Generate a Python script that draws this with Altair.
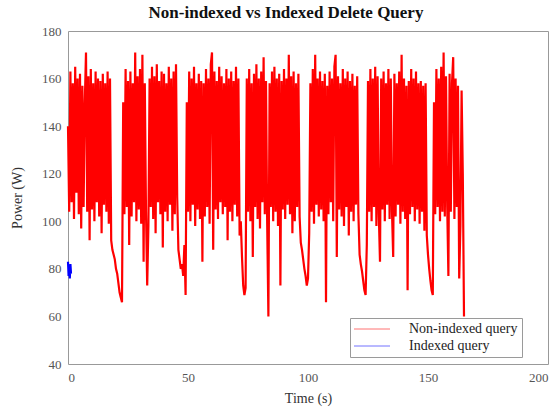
import altair as alt
import pandas as pd

# Sampling interval of the power meter (s)
STEP = 0.5

# Non-indexed delete query: power draw (W), one reading every STEP seconds
power_0_40 = [
    140, 104, 163, 108, 158, 101, 165, 112, 160, 103, 162, 97, 157, 106, 150, 171,
    104, 161, 92, 164, 105, 158, 100, 163, 108, 160, 102, 159, 95, 162, 107, 158,
    104, 163, 99, 160,
    92, 88, 86, 84, 80, 78, 74, 70, 68, 66,
    150, 103, 164, 106, 159, 90, 163, 102, 158, 108, 171, 100, 161, 105, 164, 99,
    170, 83, 158,
    104, 73, 98,
    160, 106, 165, 101, 161, 95, 166, 108, 159, 103, 163,
    89,
]
power_40_84 = [
    162, 104, 158, 100, 165, 107, 160, 96, 163, 103, 166, 110,
    88, 84, 80, 82, 77, 90, 69, 150,
    104, 163, 100, 160, 107, 165, 98, 158, 105, 162, 101, 159,
    83,
    158, 102, 164, 106, 160, 99, 166, 171, 88, 163, 105, 159, 101, 165, 108, 161,
    103, 158, 106, 164, 92, 160, 104, 163, 100, 159, 107, 165, 102, 160,
    94, 100, 85, 73, 69, 72,
    160, 104, 164, 100, 158, 85, 162, 106, 166, 101, 160, 97, 163, 108, 169, 103,
    159, 99, 60,
]
power_84_125 = [
    158, 106, 163, 100, 165, 104, 160, 98, 162, 73, 159, 105, 164, 101, 160, 107,
    170, 103, 161, 95, 163, 100, 158, 106, 162, 102,
    91, 88, 84, 80, 77, 73, 76, 95,
    158, 104, 164, 99, 170, 107, 160, 102, 163, 105, 159, 100, 162,
    66,
    157, 103, 163, 108, 160, 100, 165, 170, 85, 161, 105, 158, 102, 164, 98, 160,
    106, 163, 94, 159, 104, 162, 100, 157, 107, 161, 103,
    86, 82, 79, 75, 71, 69, 90,
]
power_125_165 = [
    159, 104, 164, 100, 160, 106, 165, 98, 161, 103,
    83,
    160, 105, 163, 100, 158, 107, 164, 101, 160, 104,
    85,
    162, 102, 158, 107, 163, 99, 170, 104, 160, 101, 157,
    71,
    159, 103, 164, 106, 160, 100, 163, 105, 158, 99,
    159, 104, 157, 96, 158,
    94, 86, 80, 75, 71, 69,
    150, 103, 164, 106, 160, 100, 165, 104, 171, 102, 161, 107,
    77,
    162, 104, 158, 169, 101, 160, 106, 157,
    76, 98, 155, 120, 60,
]

# Indexed delete query: finishes within the first second
indexed_time = [0, 0.25, 0.5, 0.75, 1.0, 1.25]
indexed_power = [83, 77, 81, 76, 82, 78]

series_names = ["Non-indexed query", "Indexed query"]
series_colors = ["#ff0000", "#0000ff"]

x_ticks = [0, 50, 100, 150, 200]
y_ticks = [40, 60, 80, 100, 120, 140, 160, 180]

nonindexed = power_0_40 + power_40_84 + power_84_125 + power_125_165
df = pd.concat(
    [
        pd.DataFrame({
            "time": [i * STEP for i in range(len(nonindexed))],
            "power": nonindexed,
            "series": series_names[0],
        }),
        pd.DataFrame({
            "time": indexed_time,
            "power": indexed_power,
            "series": series_names[1],
        }),
    ],
    ignore_index=True,
)

SERIF = "Liberation Serif"

chart = (
    alt.Chart(df)
    .mark_line(strokeWidth=2.2)
    .encode(
        x=alt.X(
            "time:Q",
            scale=alt.Scale(domain=[0, 200], nice=False),
            axis=alt.Axis(values=x_ticks, title="Time (s)", titlePadding=7),
        ),
        y=alt.Y(
            "power:Q",
            scale=alt.Scale(domain=[40, 180], nice=False),
            axis=alt.Axis(values=y_ticks, title="Power (W)", titlePadding=17),
        ),
        color=alt.Color(
            "series:N",
            sort=series_names,
            scale=alt.Scale(domain=series_names, range=series_colors),
            legend=alt.Legend(
                title=None,
                orient="none",
                legendX=282,
                legendY=287,
                fillColor="white",
                strokeColor="#9a9a9a",
                padding=4,
                symbolType="M-3,0H3",
                symbolSize=144,
                symbolOffset=11,
                symbolStrokeWidth=1,
                symbolOpacity=0.55,
                labelFont=SERIF,
                labelFontSize=14,
                labelColor="#222222",
                labelOffset=30,
                rowPadding=3,
            ),
        ),
    )
    .properties(
        width=480,
        height=333,
        autosize=alt.AutoSizeParams(type="none"),
        padding={"left": 68, "top": 31, "right": 5, "bottom": 49},
        title=alt.TitleParams(
            "Non-indexed vs Indexed Delete Query",
            font=SERIF,
            fontSize=17,
            fontWeight="bold",
            color="#111111",
            anchor="middle",
            offset=3,
            dx=-22,
        ),
    )
    .configure_view(stroke="#999999", strokeWidth=1)
    .configure_axis(
        domain=False,
        grid=False,
        ticks=False,
        labelFont=SERIF,
        labelFontSize=13,
        labelColor="#555555",
        labelPadding=7,
        titleFont=SERIF,
        titleFontSize=14,
        titleFontWeight="normal",
        titleColor="#333333",
    )
)

chart.save("out.html", embed_options={"renderer": "svg", "actions": False})
